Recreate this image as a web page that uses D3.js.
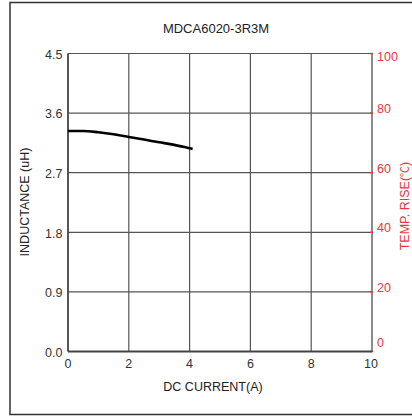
<!DOCTYPE html>
<html><head><meta charset="utf-8">
<script src="https://cdn.jsdelivr.net/npm/d3@7"></script>
<style>body{margin:0;background:#fff;}svg{display:block;font-family:"Liberation Sans",Arial,sans-serif;}</style>
</head><body>
<svg id="c" width="412" height="417"></svg>
<script>
const title = "MDCA6020-3R3M";
const xTicks = [0,2,4,6,8,10];
const yTicks = [0.0,0.9,1.8,2.7,3.6,4.5];
const rTicks = [0,20,40,60,80,100];
const current = [0,0.5,1,1.5,2,2.5,3,3.5,4,4.1];
const inductance = [3.33,3.33,3.31,3.28,3.24,3.20,3.16,3.12,3.07,3.06];

const svg = d3.select("#c");
const L=68, R=372, T=53.5, B=351.5;
const x = d3.scaleLinear().domain([0,10]).range([L,R]);
const y = d3.scaleLinear().domain([0,4.5]).range([B,T]);
const yr = d3.scaleLinear().domain([0,100]).range([B,T]);
const red = "#e8383d";

svg.append("rect").attr("x",10).attr("y",2.5).attr("width",420).attr("height",412)
  .attr("fill","none").attr("stroke","#333").attr("stroke-width",1.5);

svg.append("text").attr("x",216).attr("y",33).attr("text-anchor","middle")
  .attr("font-size",13).attr("fill","#222").text(title);

// grid
const g = svg.append("g");
g.selectAll(".vg").data(xTicks.slice(1,-1)).enter().append("line")
  .attr("x1",d=>x(d)).attr("x2",d=>x(d)).attr("y1",T).attr("y2",B)
  .attr("stroke","#555").attr("stroke-width",1.2);
g.selectAll(".hg").data(yTicks.slice(1)).enter().append("line")
  .attr("x1",L).attr("x2",R).attr("y1",d=>y(d)).attr("y2",d=>y(d))
  .attr("stroke","#555").attr("stroke-width",1.2);

// right axis
svg.append("line").attr("x1",R).attr("x2",R).attr("y1",T).attr("y2",B)
  .attr("stroke","#666").attr("stroke-width",1.5);
svg.selectAll(".rt").data(rTicks).enter().append("line")
  .attr("x1",R-2).attr("x2",R+1).attr("y1",d=>yr(d)).attr("y2",d=>yr(d))
  .attr("stroke",red).attr("stroke-width",1.4);
svg.selectAll(".rl").data(rTicks).enter().append("text")
  .attr("x",R+5).attr("y",d=>d===100?yr(d)+3.5:(d===0?yr(d)-8.5:yr(d)-4.5)).attr("dy","0.35em")
  .attr("font-size",12.5).attr("fill",red).text(d=>d);

// left/bottom axes
svg.append("line").attr("x1",L).attr("x2",L).attr("y1",T).attr("y2",B)
  .attr("stroke","#444").attr("stroke-width",1.8);
svg.append("line").attr("x1",L).attr("x2",R).attr("y1",B).attr("y2",B)
  .attr("stroke","#444").attr("stroke-width",2);
svg.selectAll(".yl").data(yTicks).enter().append("text")
  .attr("x",L-5.5).attr("y",d=>y(d)+1).attr("dy","0.35em").attr("text-anchor","end")
  .attr("font-size",12.5).attr("fill","#333").text(d=>d.toFixed(1));
svg.selectAll(".xl").data(xTicks).enter().append("text")
  .attr("x",d=>x(d)-(d===10?1:0)).attr("y",B+16).attr("text-anchor","middle")
  .attr("font-size",12.5).attr("fill","#333").text(d=>d);

svg.append("text").attr("x",213).attr("y",391).attr("text-anchor","middle")
  .attr("font-size",12.5).attr("fill","#222").text("DC CURRENT(A)");
svg.append("text").attr("transform","translate(29,202) rotate(-90)").attr("text-anchor","middle")
  .attr("font-size",12.5).attr("fill","#222").text("INDUCTANCE (uH)");
const rt = svg.append("text").attr("transform","translate(408.5,206) rotate(-90)").attr("text-anchor","middle")
  .attr("font-size",12.5).attr("fill",red);
rt.append("tspan").text("TEMP. RISE(");
rt.append("tspan").attr("font-family","Noto Sans CJK SC").attr("font-size",11).text("℃");
rt.append("tspan").text(")");

// curve
svg.append("path").datum(current.map((c,i)=>[c,inductance[i]]))
  .attr("d",d3.line().x(d=>x(d[0])).y(d=>y(d[1])).curve(d3.curveMonotoneX))
  .attr("fill","none").attr("stroke","#000").attr("stroke-width",2.6);
</script>
</body></html>
